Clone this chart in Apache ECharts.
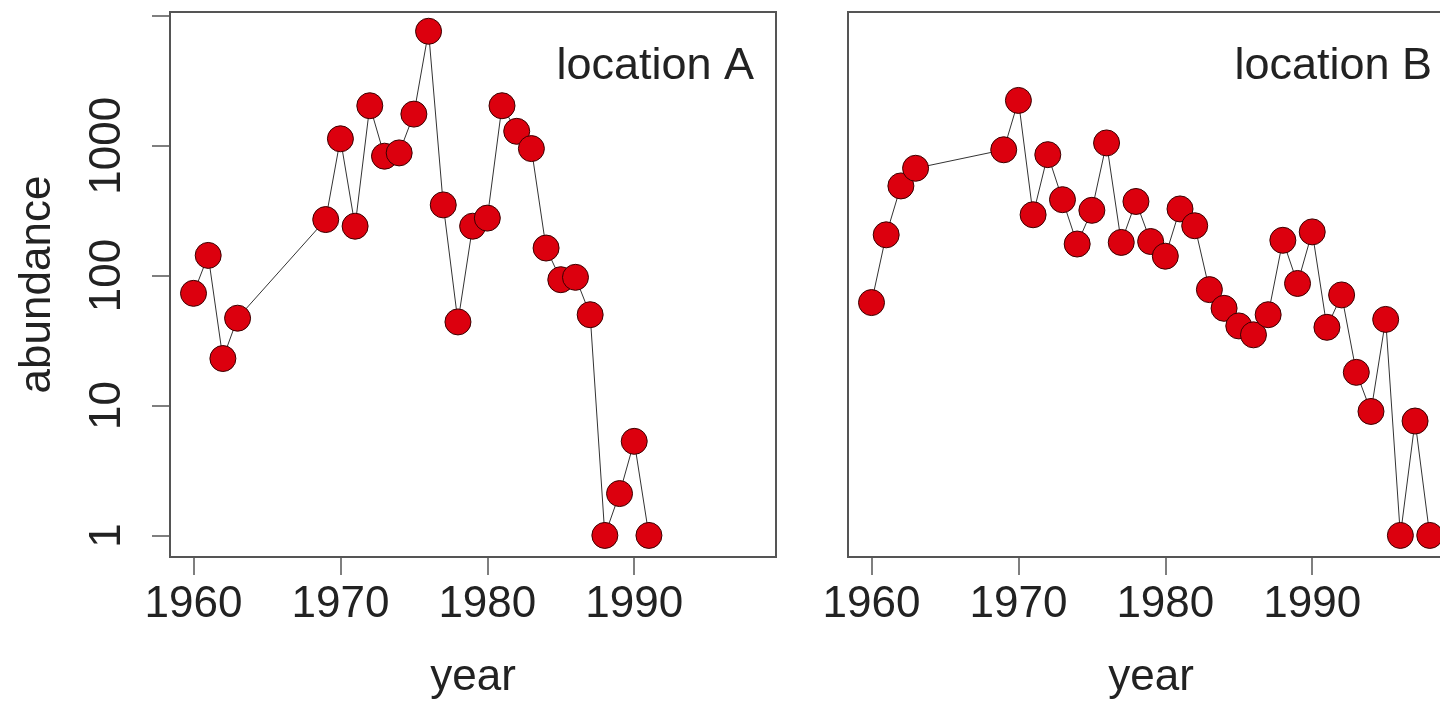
<!DOCTYPE html>
<html><head><meta charset="utf-8">
<script src="https://cdn.jsdelivr.net/npm/echarts@6/dist/echarts.min.js"></script>
<style>html,body{margin:0;padding:0;background:#fff}#c{width:1440px;height:706px}</style>
</head><body><div id="c"></div>
<script>
const yearsA = [1960,1961,1962,1963,1969,1970,1971,1972,1973,1974,1975,1976,1977,1978,1979,1980,1981,1982,1983,1984,1985,1986,1987,1988,1989,1990,1991];
const abundanceA = [73,143,23,47,270,1130,240,2030,830,880,1750,7600,350,44,240,277,2030,1290,950,163,93,97,50,1,2.1,5.3,1];
const yearsB = [1960,1961,1962,1963,1969,1970,1971,1972,1973,1974,1975,1976,1977,1978,1979,1980,1981,1982,1983,1984,1985,1986,1987,1988,1989,1990,1991,1992,1993,1994,1995,1996,1997,1998];
const abundanceB = [62,206,490,670,930,2230,294,853,384,175,318,1050,180,372,183,141,326,242,78,56,41,35,50,187,87,217,40,71,18,9,46,1,7.6,1];
const xTicks = [1960,1970,1980,1990];
const yTicks = [1,10,100,1000,10000];
const yTickLabels = [1,10,100,1000];
const panelLabels = ['location A','location B'];

const FONT = '"Liberation Sans", Arial, Helvetica, sans-serif';
const TXT = '#222';
const BOX = '#555';
const X_MIN = 1958.4, X_MAX = 1999.65;
const Y_MIN = Math.pow(10, -0.166), Y_MAX = Math.pow(10, 4.029);

function pairs(xs, ys){ return xs.map((x,i)=>[x, ys[i]]); }
const plain = v => String(Math.round(v));

function xAxis(gi){
  return {
    type:'value', gridIndex:gi, min:X_MIN, max:X_MAX,
    name:'year', nameLocation:'middle', nameGap:99,
    nameTextStyle:{fontFamily:FONT, fontSize:44, color:TXT},
    axisLine:{show:false}, splitLine:{show:false},
    axisTick:{show:true, length:18, lineStyle:{color:BOX, width:1.5}, customValues:xTicks},
    axisLabel:{show:true, margin:26, fontFamily:FONT, fontSize:44, color:TXT, customValues:xTicks, formatter:plain}
  };
}

const option = {
  backgroundColor:'#fff',
  animation:false,
  title: [
    {text:panelLabels[0], right:1440-754, top:44, padding:0,
     textStyle:{fontFamily:FONT, fontSize:45, fontWeight:'normal', color:TXT}},
    {text:panelLabels[1], right:1440-1432, top:44, padding:0,
     textStyle:{fontFamily:FONT, fontSize:45, fontWeight:'normal', color:TXT}}
  ],
  grid: [
    {left:170, top:12, width:606, height:545, show:true, borderColor:BOX, borderWidth:2, backgroundColor:'transparent', containLabel:false, outerBoundsMode:'none'},
    {left:848, top:12, width:606, height:545, show:true, borderColor:BOX, borderWidth:2, backgroundColor:'transparent', containLabel:false, outerBoundsMode:'none'}
  ],
  xAxis: [xAxis(0), xAxis(1)],
  yAxis: [
    {type:'log', logBase:10, gridIndex:0, min:Y_MIN, max:Y_MAX,
     name:'abundance', nameLocation:'middle', nameGap:110,
     nameTextStyle:{fontFamily:FONT, fontSize:44, color:TXT},
     axisLine:{show:false}, splitLine:{show:false},
     axisTick:{show:true, length:18, lineStyle:{color:BOX, width:1.5}, customValues:yTicks},
     axisLabel:{show:true, rotate:90, margin:40, fontFamily:FONT, fontSize:44, color:TXT, customValues:yTickLabels, formatter:plain}
    },
    {type:'log', logBase:10, gridIndex:1, min:Y_MIN, max:Y_MAX,
     axisLine:{show:false}, splitLine:{show:false}, axisTick:{show:false}, axisLabel:{show:false}}
  ],
  series: [
    {type:'line', xAxisIndex:0, yAxisIndex:0, data:pairs(yearsA, abundanceA),
     symbol:'circle', symbolSize:26, lineStyle:{color:'#333', width:1},
     itemStyle:{color:'#dc000e', borderColor:'#3a0000', borderWidth:1}},
    {type:'line', xAxisIndex:1, yAxisIndex:1, data:pairs(yearsB, abundanceB),
     symbol:'circle', symbolSize:26, lineStyle:{color:'#333', width:1},
     itemStyle:{color:'#dc000e', borderColor:'#3a0000', borderWidth:1}}
  ]
};
const chart = echarts.init(document.getElementById('c'), null, {renderer:'canvas'});
chart.setOption(option);
</script></body></html>
